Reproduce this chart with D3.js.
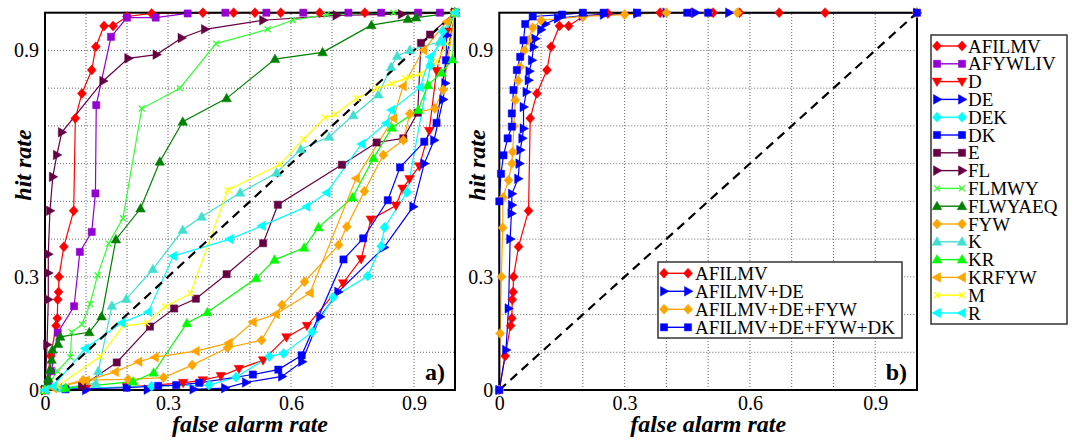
<!DOCTYPE html>
<html>
<head>
<meta charset="utf-8">
<style>
body { margin: 0; background: #fff; }
svg text { font-family: "Liberation Serif", "Times New Roman", serif; fill: #000; }
.tick text { font-size: 20px; }
.grid line { stroke: #666; stroke-width: 1; stroke-dasharray: 1 2; }
.title { font-size: 24px; font-weight: bold; font-style: italic; }
.tag { font-size: 24px; font-weight: bold; }
.key text { font-size: 19px; }
</style>
</head>
<body>
<svg width="1075" height="441"></svg>
<script src="https://d3js.org/d3.v7.min.js"></script>
<script>
// [false alarm rate, hit rate] pairs
const AFILMV = [[0,0],[0.014,0.09],[0.027,0.17],[0.03,0.19],[0.031,0.24],[0.033,0.26],[0.034,0.3],[0.046,0.38],[0.07,0.475],[0.074,0.72],[0.09,0.786],[0.114,0.848],[0.124,0.91],[0.144,0.965],[0.166,0.965],[0.2,0.99],[0.26,0.998],[0.385,1],[0.46,1],[0.512,1],[0.575,1],[0.67,1],[0.78,1],[1,1]];
const AFYWLIV = [[0,0],[0.008,0.02],[0.016,0.05],[0.031,0.152],[0.071,0.222],[0.085,0.366],[0.114,0.419],[0.123,0.521],[0.125,0.755],[0.161,0.936],[0.2,0.987],[0.27,0.987],[0.348,0.998],[0.44,1],[0.54,1],[0.63,1],[0.74,1],[0.82,1],[0.91,1],[0.963,1],[1,1]];
const D = [[0,0],[0.1,0.004],[0.2,0.008],[0.337,0.019],[0.385,0.026],[0.429,0.037],[0.473,0.056],[0.532,0.079],[0.589,0.14],[0.639,0.17],[0.727,0.283],[0.771,0.347],[0.795,0.452],[0.856,0.489],[0.872,0.534],[0.889,0.559],[0.913,0.593],[0.937,0.687],[0.955,0.846],[0.98,0.95],[1,1]];
const DE = [[0,0],[0.1,0],[0.25,0.001],[0.362,0.002],[0.439,0.005],[0.49,0.02],[0.578,0.036],[0.627,0.075],[0.671,0.194],[0.715,0.26],[0.827,0.378],[0.898,0.486],[0.925,0.6],[0.949,0.662],[0.971,0.77],[0.976,0.813],[0.98,0.94],[1,1]];
const DEK = [[0,0],[0.05,0.004],[0.26,0.01],[0.4,0.013],[0.466,0.034],[0.547,0.089],[0.582,0.097],[0.652,0.154],[0.703,0.246],[0.787,0.302],[0.82,0.381],[0.828,0.431],[0.883,0.524],[0.94,0.86],[0.97,0.95],[1,1]];
const DK = [[0,0],[0.05,0.002],[0.199,0.006],[0.276,0.011],[0.32,0.013],[0.376,0.019],[0.507,0.041],[0.569,0.054],[0.626,0.092],[0.728,0.346],[0.776,0.402],[0.836,0.503],[0.866,0.59],[0.925,0.658],[0.955,0.708],[0.978,0.874],[1,1]];
const E = [[0,0],[0.09,0.01],[0.175,0.073],[0.256,0.168],[0.315,0.216],[0.368,0.242],[0.443,0.307],[0.532,0.389],[0.568,0.491],[0.724,0.597],[0.809,0.656],[0.874,0.667],[0.909,0.735],[0.917,0.92],[0.939,0.942],[1,1]];
const FL = [[0,0],[0.005,0.12],[0.008,0.24],[0.008,0.31],[0.008,0.36],[0.012,0.475],[0.019,0.565],[0.029,0.623],[0.041,0.683],[0.142,0.819],[0.203,0.879],[0.272,0.889],[0.333,0.933],[0.39,0.956],[0.532,0.98],[0.711,0.993],[0.87,0.996],[1,1]];
const FLMWY = [[0,0],[0.03,0.05],[0.062,0.087],[0.065,0.153],[0.09,0.174],[0.11,0.228],[0.128,0.304],[0.155,0.388],[0.19,0.455],[0.236,0.746],[0.329,0.8],[0.417,0.918],[0.543,0.956],[0.604,0.98],[0.687,0.995],[0.85,1],[1,1]];
const FLWYAEQ = [[0,0],[0.005,0.015],[0.008,0.03],[0.012,0.053],[0.016,0.08],[0.018,0.107],[0.032,0.122],[0.037,0.141],[0.108,0.153],[0.138,0.195],[0.173,0.399],[0.233,0.481],[0.28,0.605],[0.336,0.711],[0.443,0.773],[0.561,0.877],[0.677,0.895],[0.796,0.967],[0.885,0.983],[0.905,0.987],[1,1]];
const FYW = [[0,0],[0.093,0.026],[0.203,0.028],[0.289,0.033],[0.359,0.066],[0.445,0.112],[0.528,0.132],[0.578,0.225],[0.633,0.287],[0.716,0.384],[0.736,0.433],[0.779,0.527],[0.825,0.623],[0.874,0.662],[0.89,0.732],[0.951,0.746],[0.971,0.796],[1,1]];
const K = [[0,0],[0.04,0.004],[0.124,0.018],[0.13,0.05],[0.163,0.223],[0.198,0.241],[0.263,0.32],[0.336,0.424],[0.382,0.459],[0.476,0.523],[0.565,0.576],[0.624,0.638],[0.693,0.671],[0.752,0.728],[0.813,0.783],[0.844,0.856],[0.859,0.885],[0.89,0.901],[0.963,0.923],[1,1]];
const KR = [[0,0],[0.05,0.005],[0.215,0.022],[0.265,0.046],[0.346,0.177],[0.396,0.206],[0.515,0.296],[0.56,0.345],[0.632,0.377],[0.667,0.431],[0.75,0.51],[0.801,0.614],[0.846,0.695],[0.91,0.742],[0.934,0.808],[0.967,0.841],[0.994,0.876],[1,1]];
const KRFYW = [[0,0],[0.02,0.005],[0.1,0.025],[0.171,0.048],[0.228,0.075],[0.268,0.087],[0.368,0.103],[0.449,0.125],[0.507,0.18],[0.563,0.201],[0.646,0.257],[0.759,0.561],[0.85,0.72],[0.873,0.805],[0.923,0.901],[0.98,0.976],[1,1]];
const M = [[0,0],[0.03,0.01],[0.134,0.088],[0.191,0.17],[0.248,0.177],[0.293,0.221],[0.355,0.256],[0.446,0.53],[0.573,0.598],[0.63,0.664],[0.683,0.722],[0.707,0.73],[0.76,0.773],[0.809,0.799],[0.846,0.812],[0.878,0.826],[0.89,0.83],[0.915,0.837],[0.955,0.87],[0.98,0.918],[1,1]];
const R = [[0,0],[0.02,0.01],[0.098,0.11],[0.187,0.178],[0.252,0.207],[0.313,0.355],[0.451,0.4],[0.529,0.435],[0.638,0.486],[0.687,0.523],[0.772,0.652],[0.832,0.707],[0.845,0.742],[0.915,0.802],[0.939,0.883],[0.968,0.923],[1,1]];

// panel b
const AFILMV_DE = [[0,0],[0.016,0.106],[0.022,0.216],[0.026,0.4],[0.029,0.468],[0.03,0.49],[0.03,0.52],[0.045,0.56],[0.048,0.6],[0.05,0.636],[0.055,0.667],[0.058,0.693],[0.058,0.75],[0.065,0.79],[0.07,0.821],[0.072,0.845],[0.078,0.874],[0.082,0.909],[0.086,0.931],[0.1,0.955],[0.11,0.97],[0.14,0.985],[0.2,0.992],[0.25,0.995],[0.33,0.998],[0.4,1],[0.47,1],[0.55,1],[1,1]];
const AFILMV_DE_FYW = [[0,0],[0.002,0.15],[0.005,0.3],[0.008,0.43],[0.009,0.51],[0.022,0.556],[0.03,0.6],[0.032,0.631],[0.035,0.7],[0.038,0.768],[0.045,0.82],[0.05,0.856],[0.06,0.9],[0.069,0.927],[0.08,0.96],[0.1,0.98],[0.2,0.99],[0.3,0.995],[0.4,1],[0.5,1],[0.57,1],[1,1]];
const AFILMV_DE_FYW_DK = [[0,0],[0,0.5],[0.004,0.573],[0.01,0.622],[0.02,0.667],[0.03,0.698],[0.03,0.733],[0.034,0.795],[0.042,0.848],[0.05,0.883],[0.058,0.927],[0.062,0.97],[0.08,0.99],[0.15,0.995],[0.2,1],[0.25,1],[0.33,1],[0.45,1],[0.5,1],[1,1]];

const namesA = ["AFILMV","AFYWLIV","D","DE","DEK","DK","E","FL","FLMWY","FLWYAEQ","FYW","K","KR","KRFYW","M","R"];
const dataA = [AFILMV, AFYWLIV, D, DE, DEK, DK, E, FL, FLMWY, FLWYAEQ, FYW, K, KR, KRFYW, M, R];
const namesB = ["AFILMV","AFILMV+DE","AFILMV+DE+FYW","AFILMV+DE+FYW+DK"];
const dataB = [AFILMV, AFILMV_DE, AFILMV_DE_FYW, AFILMV_DE_FYW_DK];
const tickLabels = [0, 0.3, 0.6, 0.9];

// styles
const colorsA = ["#ff0000","#9400d3","#ff0000","#0000ff","#00ffff","#0000ff","#660044","#660044","#33ff33","#008000","#ffa500","#40e0d0","#00ff00","#ffa500","#ffff00","#00ffff"];
const shapesA = ["diamond","square","tdown","tright","diamond","square","square","tright","x","tup","diamond","tup","tup","tleft","x","tleft"];
const colorsB = ["#ff0000","#0000ff","#ffa500","#0000ff"];
const shapesB = ["diamond","tright","diamond","square"];

const markerPath = {
  diamond: "M0,-5L4.5,0L0,5L-4.5,0Z",
  square: "M-3.6,-3.6H3.6V3.6H-3.6Z",
  tup: "M0,-5L4.8,3.5L-4.8,3.5Z",
  tdown: "M0,5L4.8,-3.5L-4.8,-3.5Z",
  tright: "M5,0L-3.5,-4.8L-3.5,4.8Z",
  tleft: "M-5,0L3.5,-4.8L3.5,4.8Z",
  x: "M-3,-3L3,3M-3,3L3,-3"
};

const svg = d3.select("svg");

function marker(sel, shape, color) {
  sel.attr("d", markerPath[shape])
    .attr("fill", shape === "x" ? "none" : color)
    .attr("stroke", color)
    .attr("stroke-width", shape === "x" ? 1.3 : 0.5);
}

function drawPanel(x, y, list, cols, shps, tag) {
  const g = svg.append("g");
  const tenths = d3.range(1, 10).map(d => d / 10);

  // grid
  const grid = g.append("g").attr("class", "grid");
  grid.selectAll("line.v").data(tenths).join("line").attr("class", "v")
    .attr("x1", d => x(d)).attr("x2", d => x(d))
    .attr("y1", y(0)).attr("y2", y(1));
  grid.selectAll("line.h").data(tenths).join("line").attr("class", "h")
    .attr("y1", d => y(d)).attr("y2", d => y(d))
    .attr("x1", x(0)).attr("x2", x(1));

  // axes
  const xAxis = d3.axisBottom(x).tickValues(tickLabels).tickFormat(d3.format("~g")).tickSize(0).tickPadding(6);
  const yAxis = d3.axisLeft(y).tickValues([0, 0.3, 0.9]).tickFormat(d3.format("~g")).tickSize(0).tickPadding(6);
  g.append("g").attr("transform", `translate(0,${y(0)})`).call(xAxis)
    .attr("font-size", null).attr("font-family", null)
    .call(a => a.select(".domain").remove());
  g.append("g").attr("transform", `translate(${x(0)},0)`).call(yAxis)
    .attr("font-size", null).attr("font-family", null)
    .call(a => a.select(".domain").remove());

  const line = d3.line().x(d => x(d[0])).y(d => y(d[1]));

  // lines
  list.forEach((s, i) => {
    g.append("path").datum(s).attr("d", line)
      .attr("fill", "none").attr("stroke", cols[i]).attr("stroke-width", 1.2);
  });

  // chance diagonal
  g.append("line")
    .attr("x1", x(0)).attr("y1", y(0)).attr("x2", x(1)).attr("y2", y(1))
    .attr("stroke", "#000").attr("stroke-width", 2.2).attr("stroke-dasharray", "9 6");

  // frame
  g.append("rect")
    .attr("x", x(0)).attr("y", y(1))
    .attr("width", x(1) - x(0)).attr("height", y(0) - y(1))
    .attr("fill", "none").attr("stroke", "#000").attr("stroke-width", 2);

  // markers
  list.forEach((s, i) => {
    g.append("g").selectAll("path").data(s).join("path")
      .attr("transform", d => `translate(${x(d[0])},${y(d[1])})`)
      .call(marker, shps[i], cols[i]);
  });

  // titles
  g.append("text").attr("class", "title")
    .attr("transform", `translate(${x(0) - 14},165) rotate(-90)`)
    .attr("text-anchor", "middle").text("hit rate");
  g.append("text").attr("class", "title")
    .attr("x", (x(0) + x(1)) / 2).attr("y", 432)
    .attr("text-anchor", "middle").text("false alarm rate");
  g.append("text").attr("class", "tag")
    .attr("x", x(1) - 10).attr("y", y(0) - 10)
    .attr("text-anchor", "end").text(tag);
}

function drawKey(bx, by, bw, bh, names, cols, shps, lx0, lx1, tx, ty0, step) {
  const k = svg.append("g").attr("class", "key");
  k.append("rect").attr("x", bx).attr("y", by).attr("width", bw).attr("height", bh)
    .attr("fill", "#fff").attr("stroke", "#333").attr("stroke-width", 1.5);
  names.forEach((n, i) => {
    const yy = ty0 + i * step;
    k.append("line").attr("x1", lx0).attr("x2", lx1).attr("y1", yy).attr("y2", yy)
      .attr("stroke", cols[i]).attr("stroke-width", 1.4);
    [lx0, lx1].forEach(px => {
      k.append("path").attr("transform", `translate(${px},${yy})`).call(marker, shps[i], cols[i]);
    });
    k.append("text").attr("x", tx).attr("y", yy + 6.5).text(n);
  });
}

const xA = d3.scaleLinear().domain([0, 1]).range([45, 455]);
const yA = d3.scaleLinear().domain([0, 1]).range([390, 12.7]);
const xB = d3.scaleLinear().domain([0, 1]).range([499.3, 917]);
const yB = d3.scaleLinear().domain([0, 1]).range([390, 12.7]);

drawPanel(xA, yA, dataA, colorsA, shapesA, "a)");
drawPanel(xB, yB, dataB, colorsB, shapesB, "b)");

drawKey(658, 262, 244, 76, namesB, colorsB, shapesB, 664, 688, 695, 273.3, 18);
drawKey(931, 35, 136, 289, namesA, colorsA, shapesA, 937, 962, 968, 46, 17.8);
</script>
</body>
</html>
